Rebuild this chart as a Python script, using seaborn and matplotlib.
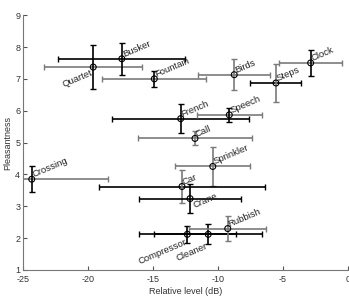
import matplotlib
matplotlib.use('Agg')
import matplotlib.pyplot as plt
import seaborn as sns
import pandas as pd
import numpy as np

# sound sources
sounds = ['Quartet', 'Busker', 'Fountain', 'Birds', 'Steps', 'Clock',
          'French', 'Speech', 'Call', 'Crossing', 'Sprinkler', 'Car',
          'Crane', 'Compressor', 'Cleaner', 'Rubbish']
level = [-19.6, -17.4, -14.9, -8.75, -5.54, -2.87,
         -12.87, -9.13, -11.77, -24.33, -10.4, -12.77,
         -12.15, -12.36, -10.75, -9.25]
pleasant = [7.37, 7.63, 7.0, 7.13, 6.87, 7.5,
            5.75, 5.87, 5.13, 3.85, 4.25, 3.62,
            3.24, 2.12, 2.12, 2.3]
level_err = [3.75, 4.9, 4.0, 2.75, 1.96, 2.45,
             5.27, 2.5, 4.4, 5.9, 2.9, 6.35,
             3.9, 3.72, 4.17, 2.95]
pleasant_err = [0.68, 0.5, 0.25, 0.48, 0.6, 0.42,
                0.45, 0.22, 0.22, 0.4, 0.62, 0.52,
                0.45, 0.27, 0.31, 0.4]
# which error bars are drawn dark (1) or light (0)
level_dark = [0, 1, 0, 0, 1, 0, 1, 0, 0, 0, 0, 1, 1, 1, 1, 0]
pleasant_dark = [1, 1, 1, 0, 0, 1, 1, 1, 0, 1, 0, 0, 1, 1, 1, 0]

df = pd.DataFrame({'sound': sounds, 'level': level, 'pleasant': pleasant,
                   'xerr': level_err, 'yerr': pleasant_err,
                   'xdark': level_dark, 'ydark': pleasant_dark})

sns.set_style('ticks')
plt.rcParams['font.family'] = ['Liberation Sans', 'DejaVu Sans']
plt.rcParams['axes.unicode_minus'] = False

fig = plt.figure(figsize=(3.49, 3.03), dpi=100)
ax = fig.add_axes([0.066, 0.109, 0.931, 0.841])

col = {1: '#000000', 0: '#7a7a7a'}
for _, r in df.iterrows():
    ax.errorbar(r['level'], r['pleasant'], xerr=r['xerr'], fmt='none',
                ecolor=col[r['xdark']], elinewidth=1.2, capsize=2.4, capthick=1.0)
    ax.errorbar(r['level'], r['pleasant'], yerr=r['yerr'], fmt='none',
                ecolor=col[r['ydark']], elinewidth=1.2, capsize=2.4, capthick=1.0)

sns.scatterplot(data=df, x='level', y='pleasant', ax=ax, marker='o', s=18,
                facecolor='none', edgecolor='black', linewidth=0.8, zorder=5)

# label placement: (dx, dy) in points, ha, va
place = {
    'Quartet': (-2, -1, 'right', 'top'),
    'Compressor': (-2, -2, 'right', 'top'),
    'Cleaner': (-2, -5, 'right', 'top'),
    'Crane': (1, -2, 'left', 'top'),
}
for _, r in df.iterrows():
    dx, dy, ha, va = place.get(r['sound'], (2, 0, 'left', 'bottom'))
    ax.annotate(r['sound'], (r['level'], r['pleasant']), xytext=(dx, dy),
                textcoords='offset points', ha=ha, va=va, rotation=23,
                rotation_mode='anchor', fontsize=6.8, color='#222222')

ax.set_xlim(-25, 0)
ax.set_ylim(1, 9)
ax.set_xticks([-25, -20, -15, -10, -5, 0])
ax.set_yticks(range(1, 10))
ax.set_xlabel('Relative level (dB)', fontsize=6.5, color='#333333', labelpad=2)
ax.set_ylabel('Pleasantness', fontsize=6.5, color='#333333', labelpad=2)
ax.tick_params(direction='in', length=3, width=0.8, labelsize=6.5,
               colors='#555555', labelcolor='#333333', pad=2)
ax.tick_params(axis='x', pad=3.5)
for s in ['top', 'right']:
    ax.spines[s].set_visible(False)
for s in ['left', 'bottom']:
    ax.spines[s].set_color('#777777')
    ax.spines[s].set_linewidth(0.8)

fig.savefig('out.png', dpi=100)
